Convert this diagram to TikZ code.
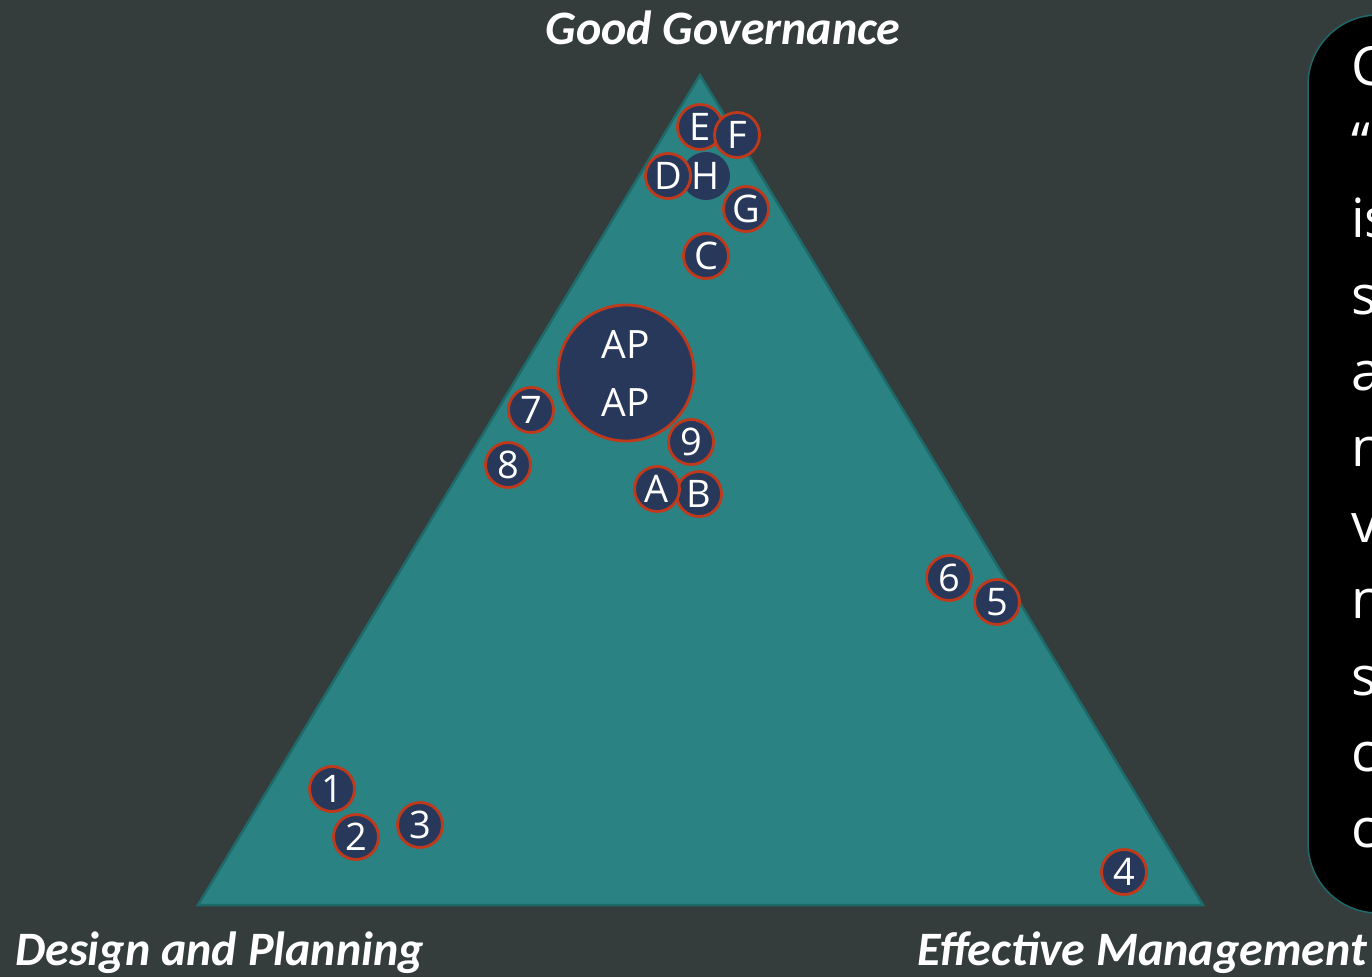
\documentclass[tikz,border=0pt]{standalone}
\usepackage{fontspec}
\setmainfont{Carlito}
\newfontfamily\osans{Open Sans}
\definecolor{bg}{RGB}{53,60,60}
\definecolor{tri}{RGB}{43,130,130}
\definecolor{triedge}{RGB}{30,105,105}
\definecolor{navy}{RGB}{40,56,90}
\definecolor{rededge}{RGB}{192,57,27}
\begin{document}
\begin{tikzpicture}[x=1pt,y=-1pt,
  dot/.style={circle,fill=navy,draw=rededge,line width=2.8pt,minimum size=45,inner sep=0pt,text=white,font=\osans\fontsize{38}{45}\selectfont},
  plaindot/.style={circle,fill=navy,minimum size=48,inner sep=0pt,text=white,font=\osans\fontsize{38}{45}\selectfont},
  apt/.style={text=white,inner sep=0pt,font=\osans\fontsize{39}{46}\selectfont},
  axis/.style={text=white,inner sep=0pt,font=\fontsize{48}{57}\selectfont\bfseries\itshape},
  boxt/.style={text=white,inner sep=0pt,anchor=base west,font=\osans\fontsize{54}{64}\selectfont}]
\useasboundingbox (0,0) rectangle (1372,977);
\clip (0,0) rectangle (1372,977);
\fill[bg] (0,0) rectangle (1372,977);
% triangle
\coordinate (top) at (700,75);
\coordinate (bl) at (198,905);
\coordinate (br) at (1203,905);
\draw[fill=tri,draw=triedge,line width=2.5pt,line join=miter] (top) -- (bl) -- (br) -- cycle;
% axis labels
\node[axis,anchor=base] (gg) at (723,44) {Good Governance};
\node[axis,anchor=base west] (dp) at (15,965) {Design and Planning};
\node[axis,anchor=base west] (em) at (917,965) {Effective Management};
% right box
\draw[fill=black,draw=triedge,line width=1.5pt,rounded corners=70pt] (1308,15) rectangle (1480,913);
\node[boxt] (l1) at (1351,85) {C};
\node[boxt] (l2) at (1351,161) {“};
\node[boxt] (l3) at (1351,237) {is};
\node[boxt] (l4) at (1351,314) {s};
\node[boxt] (l5) at (1351,390) {a};
\node[boxt] (l6) at (1351,466) {n};
\node[boxt] (l7) at (1351,542) {v};
\node[boxt] (l8) at (1351,618) {n};
\node[boxt] (l9) at (1351,695) {s};
\node[boxt] (l10) at (1351,771) {c};
\node[boxt] (l11) at (1351,847) {c};
% top cluster
\node[plaindot] (h) at (706,176) {H};
\node[dot] (d) at (668,176) {D};
\node[dot] (e) at (700,127) {E};
\node[dot] (f) at (737,135) {F};
\node[dot] (g) at (746,209) {G};
\node[dot] (c) at (706,256) {C};
% AP
\node[circle,fill=navy,draw=rededge,line width=2.8pt,minimum size=136,inner sep=0pt] (ap) at (626,373) {};
\node[apt] (ap1) at (626,345) {AP};
\node[apt] (ap2) at (626,403) {AP};
% middle
\node[dot] (n7) at (531,410) {7};
\node[dot] (n8) at (508,465) {8};
\node[dot] (n9) at (691,442) {9};
\node[dot] (b) at (699,494) {B};
\node[dot] (a) at (657,489) {A};
\node[dot] (n6) at (949,578) {6};
\node[dot] (n5) at (997,602) {5};
% bottom
\node[dot] (n1) at (332,789) {1};
\node[dot] (n2) at (356,837) {2};
\node[dot] (n3) at (420,825) {3};
\node[dot] (n4) at (1124,872) {4};
\end{tikzpicture}
\end{document}
